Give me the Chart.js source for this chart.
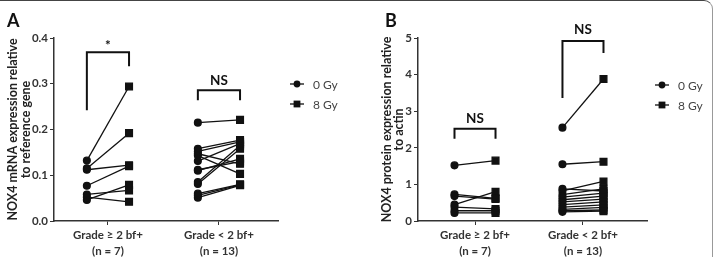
<!DOCTYPE html>
<html>
<head>
<meta charset="utf-8">
<script src="https://cdn.jsdelivr.net/npm/chart.js@4.4.0/dist/chart.umd.min.js"></script>
<style>
  body { margin: 0; background: #fff; }
  #wrap { position: relative; width: 714px; height: 257px; overflow: hidden; }
  #frame { position: absolute; left: -10px; top: 0; width: 723px; height: 270px; box-sizing: border-box;
           border-top: 1px solid #444; border-right: 1px solid #999; border-top-right-radius: 9px; }
  .panel { position: absolute; top: 0; width: 357px; height: 257px; }
</style>
</head>
<body>
<div id="wrap">
  <div class="panel" style="left:0"><canvas id="chartA"></canvas></div>
  <div class="panel" style="left:357px"><canvas id="chartB"></canvas></div>
  <div id="frame"></div>
</div>
<script>
// categories
const groups = [['Grade \u2265 2 bf+', '(n = 7)'], ['Grade < 2 bf+', '(n = 13)']];
const doses = ['0 Gy', '8 Gy'];

// A: NOX4 mRNA, paired values (same index = same patient)
const aG1_0Gy = [0.132, 0.115, 0.112, 0.077, 0.058, 0.052, 0.046];
const aG1_8Gy = [0.294, 0.192, 0.122, 0.120, 0.067, 0.042, 0.079];
const aG2_0Gy = [0.215, 0.158, 0.152, 0.147, 0.143, 0.131, 0.112, 0.110, 0.085, 0.081, 0.060, 0.056, 0.051];
const aG2_8Gy = [0.221, 0.177, 0.173, 0.125, 0.103, 0.169, 0.130, 0.136, 0.165, 0.158, 0.080, 0.079, 0.078];

// B: NOX4 protein
const bG1_0Gy = [1.52, 0.73, 0.68, 0.45, 0.38, 0.28, 0.22];
const bG1_8Gy = [1.65, 0.62, 0.60, 0.80, 0.33, 0.28, 0.22];
const bG2_0Gy = [2.55, 1.55, 0.88, 0.82, 0.72, 0.65, 0.58, 0.52, 0.45, 0.38, 0.32, 0.28, 0.25];
const bG2_8Gy = [3.88, 1.62, 0.82, 1.08, 0.88, 0.76, 0.68, 0.60, 0.52, 0.44, 0.37, 0.30, 0.27];

// significance brackets: [label, bar level, left leg end, right leg end, label level]
const aBrackets = [['*', 0.369, 0.242, 0.338, 0.384], ['NS', 0.286, 0.264, 0.264, 0.307]];
const bBrackets = [['NS', 2.52, 2.25, 2.25, 2.80], ['NS', 4.92, 3.36, 4.59, 5.24]];

const FONT = 'Lato, "Open Sans", sans-serif';
const INK = '#111';
const pairOffset = 0.19;

function pairSets(g0, g8, center) {
  return g0.map((v, i) => ({
    data: [{x: center - pairOffset, y: v}, {x: center + pairOffset, y: g8[i]}],
    borderColor: INK,
    backgroundColor: INK,
    borderWidth: 1.3,
    pointStyle: ['circle', 'rect'],
    pointRadius: [3.4, 4.8],
    pointHoverRadius: [3.4, 4.8],
    showLine: true
  }));
}

const extras = {
  id: 'extras',
  afterDraw(chart, args, opts) {
    const ctx = chart.ctx;
    const xs = chart.scales.x, ys = chart.scales.y;
    const area = chart.chartArea;
    ctx.save();
    // panel letter
    ctx.fillStyle = '#111';
    ctx.font = 'bold 18px ' + FONT;
    ctx.textBaseline = 'middle';
    ctx.textAlign = 'left';
    ctx.fillText(opts.letter, opts.letterX, 21);
    // y axis title, two rotated lines
    ctx.save();
    ctx.font = 'bold 12.5px ' + FONT;
    ctx.fillStyle = '#222';
    ctx.textAlign = 'center';
    ctx.translate(0, (area.top + area.bottom) / 2);
    ctx.rotate(-Math.PI / 2);
    opts.yTitle.forEach((t, i) => ctx.fillText(t, 0, opts.titleX[i]));
    ctx.restore();
    // brackets
    ctx.strokeStyle = INK;
    ctx.lineWidth = 2;
    opts.brackets.forEach((b, i) => {
      const x1 = xs.getPixelForValue(i - pairOffset), x2 = xs.getPixelForValue(i + pairOffset);
      const yt = ys.getPixelForValue(b[1]);
      ctx.beginPath();
      ctx.moveTo(x1, ys.getPixelForValue(b[2]));
      ctx.lineTo(x1, yt);
      ctx.lineTo(x2, yt);
      ctx.lineTo(x2, ys.getPixelForValue(b[3]));
      ctx.stroke();
      ctx.font = 'bold 13.5px ' + FONT;
      ctx.textAlign = 'center';
      ctx.fillText(b[0], (x1 + x2) / 2, ys.getPixelForValue(b[4]));
    });
    // legend
    ctx.font = '12px ' + FONT;
    ctx.lineWidth = 1.3;
    doses.forEach((d, i) => {
      const y = opts.legendY + i * 20, mx = opts.legendX;
      ctx.beginPath();
      ctx.moveTo(mx - 7, y); ctx.lineTo(mx + 7, y); ctx.stroke();
      ctx.fillStyle = INK;
      if (i === 0) { ctx.beginPath(); ctx.arc(mx, y, 3.4, 0, Math.PI * 2); ctx.fill(); }
      else ctx.fillRect(mx - 3.4, y - 3.4, 6.8, 6.8);
      ctx.fillStyle = '#444';
      ctx.textAlign = 'left';
      ctx.fillText(d, mx + 16, y + 1);
    });
    ctx.restore();
  }
};

function makeChart(id, sets, cfg) {
  return new Chart(document.getElementById(id), {
    type: 'scatter',
    data: { datasets: sets },
    plugins: [extras],
    options: {
      responsive: true,
      maintainAspectRatio: false,
      animation: false,
      events: [],
      layout: { padding: { top: 38, bottom: 0, left: cfg.padLeft, right: cfg.padRight } },
      plugins: {
        legend: { display: false },
        tooltip: { enabled: false },
        extras: {
          letter: cfg.letter, letterX: cfg.letterX, legendX: cfg.legendX, legendY: cfg.legendY,
          brackets: cfg.brackets, yTitle: cfg.yTitle, titleX: cfg.titleX
        }
      },
      scales: {
        x: {
          type: 'linear',
          min: cfg.xMin, max: cfg.xMax,
          afterFit: s => { s.height = 36; },
          afterBuildTicks: s => { s.ticks = [{value: 0}, {value: 1}]; },
          grid: { drawOnChartArea: false, tickLength: 4, color: '#333' },
          border: { color: '#333', width: 1.5 },
          ticks: {
            autoSkip: false, maxRotation: 0, padding: 2, color: '#333',
            font: { family: FONT, size: 11.5, weight: 'bold', lineHeight: 1.4 },
            callback: v => groups[v]
          }
        },
        y: {
          min: 0, max: cfg.yMax,
          afterFit: s => { s.width = cfg.yWidth; },
          grid: { drawOnChartArea: false, tickLength: 4, color: '#333' },
          border: { color: '#333', width: 1.5 },
          ticks: {
            stepSize: cfg.yStep, padding: 2, color: '#333',
            font: { family: FONT, size: 11.5, weight: 'bold' },
            callback: v => v.toFixed(cfg.dec)
          }
        }
      }
    }
  });
}

makeChart('chartA', pairSets(aG1_0Gy, aG1_8Gy, 0).concat(pairSets(aG2_0Gy, aG2_8Gy, 1)), {
  letter: 'A', letterX: 7, legendX: 297, legendY: 84, brackets: aBrackets,
  padLeft: 0, padRight: 79, yWidth: 54, xMin: -0.486, xMax: 1.532,
  yMax: 0.4, yStep: 0.1, dec: 1, titleX: [13, 26],
  yTitle: ['NOX4 mRNA expression relative', 'to reference gene']
});

makeChart('chartB', pairSets(bG1_0Gy, bG1_8Gy, 0).concat(pairSets(bG2_0Gy, bG2_8Gy, 1)), {
  letter: 'B', letterX: 28, legendX: 305, legendY: 85, brackets: bBrackets,
  padLeft: 17, padRight: 67, yWidth: 44, xMin: -0.528, xMax: 1.593,
  yMax: 5, yStep: 1, dec: 0, titleX: [30, 42],
  yTitle: ['NOX4 protein expression relative', 'to actin']
});
</script>
</body>
</html>
